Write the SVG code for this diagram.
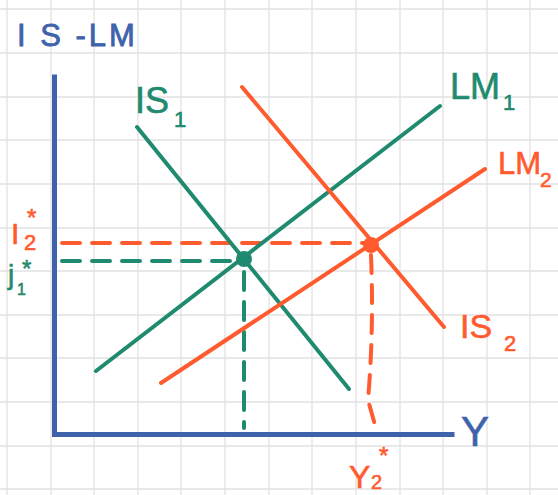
<svg xmlns="http://www.w3.org/2000/svg" width="558" height="495" viewBox="0 0 558 495">
<defs>
<style>
.grid line{stroke:#e2e2e2;stroke-width:1.3}
.axis{stroke:#3f63ab;stroke-width:5;fill:none;stroke-linecap:square}
.g{stroke:#1f8a6f;stroke-width:4;fill:none;stroke-linecap:round}
.o{stroke:#ff5b2e;stroke-width:4;fill:none;stroke-linecap:round}
.dash{stroke-dasharray:18 12}
.t{font-family:"Liberation Sans",Arial,sans-serif}
.tg{fill:#1f8a6f}
.to{fill:#ff5b2e}
.tb{fill:#3f63ab}
</style>
</defs>
<rect width="558" height="495" fill="#ffffff"/>
<g class="grid" id="grid">
<line x1="7" y1="0" x2="7" y2="495"/><line x1="51" y1="0" x2="51" y2="495"/><line x1="94" y1="0" x2="94" y2="495"/><line x1="138" y1="0" x2="138" y2="495"/><line x1="181" y1="0" x2="181" y2="495"/><line x1="225" y1="0" x2="225" y2="495"/><line x1="269" y1="0" x2="269" y2="495"/><line x1="312" y1="0" x2="312" y2="495"/><line x1="356" y1="0" x2="356" y2="495"/><line x1="400" y1="0" x2="400" y2="495"/><line x1="443" y1="0" x2="443" y2="495"/><line x1="487" y1="0" x2="487" y2="495"/><line x1="530" y1="0" x2="530" y2="495"/>
<line x1="0" y1="9" x2="558" y2="9"/><line x1="0" y1="53" x2="558" y2="53"/><line x1="0" y1="97" x2="558" y2="97"/><line x1="0" y1="140" x2="558" y2="140"/><line x1="0" y1="184" x2="558" y2="184"/><line x1="0" y1="228" x2="558" y2="228"/><line x1="0" y1="271" x2="558" y2="271"/><line x1="0" y1="315" x2="558" y2="315"/><line x1="0" y1="358" x2="558" y2="358"/><line x1="0" y1="402" x2="558" y2="402"/><line x1="0" y1="446" x2="558" y2="446"/><line x1="0" y1="489" x2="558" y2="489"/>
</g>
<g id="title"><text class="t tb" x="17" y="46" font-size="31" letter-spacing="3" stroke="#3f63ab" stroke-width="0.8">I S -LM</text></g>
<g id="axes">
<path class="axis" d="M54.5,77 V434.5 H452"/>
</g>
<g id="connectors">
<line class="o dash" x1="62" y1="243" x2="371" y2="243"/>
<line class="g dash" x1="62" y1="261" x2="244" y2="261"/>
<line class="g dash" x1="244" y1="272" x2="244" y2="428"/>
<path class="o dash" d="M371,255 Q374,330 368,400 L377,432"/>
</g>
<g id="IS1"><line class="g" x1="137" y1="127" x2="349" y2="389"/></g>
<g id="LM1"><line class="g" x1="96" y1="371" x2="440" y2="106"/></g>
<g id="IS2"><line class="o" x1="242" y1="87" x2="444" y2="327"/></g>
<g id="LM2"><line class="o" x1="161" y1="383" x2="485" y2="169"/></g>
<g id="E1"><circle cx="244" cy="259" r="8" fill="#1f8a6f"/></g>
<g id="E2"><circle cx="371" cy="245" r="8" fill="#ff5b2e"/></g>
<g id="labels" stroke-width="0.6">
<text class="t tg" x="135" y="113" font-size="36" stroke="#1f8a6f">IS</text><text class="t tg" x="174" y="127" font-size="22" stroke="#1f8a6f">1</text>
<text class="t tg" x="450" y="99" font-size="36" stroke="#1f8a6f">LM</text><text class="t tg" x="503" y="110" font-size="22" stroke="#1f8a6f">1</text>
<text class="t to" x="498" y="174" font-size="31" stroke="#ff5b2e">LM</text><text class="t to" x="540" y="187" font-size="21" stroke="#ff5b2e">2</text>
<text class="t to" x="460" y="338" font-size="34" stroke="#ff5b2e">IS</text><text class="t to" x="504" y="351" font-size="22" stroke="#ff5b2e">2</text>
<text class="t to" x="11" y="244" font-size="30" stroke="#ff5b2e">I</text><text class="t to" x="24" y="250" font-size="22" stroke="#ff5b2e">2</text><text class="t to" x="27" y="226" font-size="24" stroke="#ff5b2e">*</text>
<text class="t tg" x="8" y="284" font-size="28" stroke="#1f8a6f">j</text><text class="t tg" x="17" y="295" font-size="16" stroke="#1f8a6f">1</text><text class="t tg" x="22" y="277" font-size="24" stroke="#1f8a6f">*</text>
<text class="t tb" x="461" y="446" font-size="42" stroke="#3f63ab">Y</text>
<text class="t to" x="349" y="488" font-size="32" stroke="#ff5b2e">Y</text><text class="t to" x="371" y="489" font-size="20" stroke="#ff5b2e">2</text><text class="t to" x="379" y="464" font-size="24" stroke="#ff5b2e">*</text>
</g>
</svg>
